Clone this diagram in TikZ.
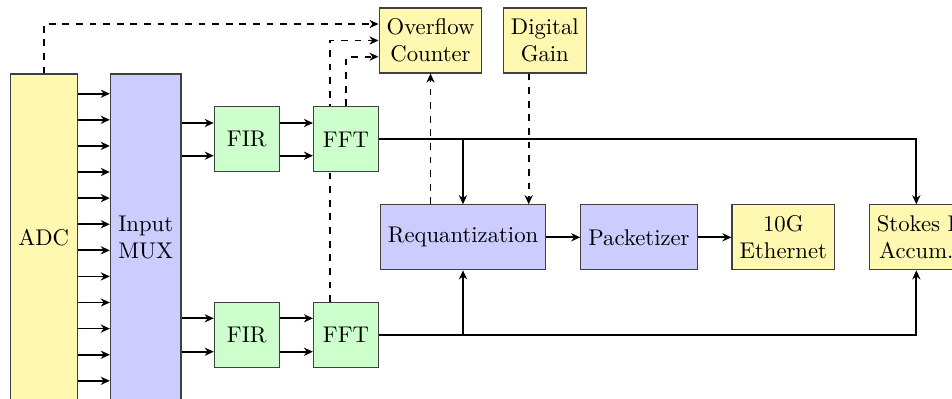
\documentclass[tikz,border=0pt]{standalone}
\usetikzlibrary{arrows.meta,calc}
\definecolor{ybox}{RGB}{255,248,176}
\definecolor{bbox}{RGB}{204,204,255}
\definecolor{gbox}{RGB}{204,255,204}
\pgfdeclarelayer{background}
\pgfsetlayers{background,main}
\tikzset{
  blk/.style={draw=black!75, line width=0.5pt, align=center, inner sep=3.33pt, minimum height=28.6pt, font=\normalsize},
  yblk/.style={blk, fill=ybox},
  bblk/.style={blk, fill=bbox},
  gblk/.style={blk, fill=gbox, minimum width=28.6pt},
  tip/.style={-{Stealth[length=4pt,width=3.6pt,inset=1.3pt]}},
  conn/.style={line width=0.75pt, tip},
  ctrl/.style={line width=0.75pt, dashed, tip},
}
\begin{document}
\begin{tikzpicture}[x=0.4405pt, y=-0.4405pt]
\clip (0,0) rectangle (952,398);
\useasboundingbox (0,0) rectangle (952,398);
% nodes
\node[yblk, minimum width=29.4pt, minimum height=144pt] (ADC) at (43.7,237.5) {ADC};
\node[bblk, minimum width=31.1pt, minimum height=144pt] (MUX) at (145.7,237.5) {Input\\MUX};
\node[gblk] (FIRa) at (246.8,139.3) {FIR};
\node[gblk] (FFTa) at (346,139.3) {FFT};
\node[gblk] (FIRb) at (246.8,335) {FIR};
\node[gblk] (FFTb) at (346,335) {FFT};
\node[yblk] (OVF) at (430.5,40.5) {Overflow\\Counter};
\node[yblk] (DG) at (544.8,40.5) {Digital\\Gain};
\node[bblk] (REQ) at (463,237.3) {Requantization};
\node[bblk] (PKT) at (639,237.3) {Packetizer};
\node[yblk] (ETH) at (783.3,237.3) {10G\\Ethernet};
\node[yblk] (STK) at (916.3,237.3) {Stokes I\\Accum.};
% ADC -> MUX
\foreach \k in {0,...,11}{
  \pgfmathsetmacro{\yy}{93.7+26.1*\k}
  \draw[conn] (ADC.east |- 0,\yy) -- (MUX.west |- 0,\yy);
}
% MUX -> FIR -> FFT
\foreach \yy in {123,155.7}{
  \draw[conn] (MUX.east |- 0,\yy) -- (FIRa.west |- 0,\yy);
  \draw[conn] (FIRa.east |- 0,\yy) -- (FFTa.west |- 0,\yy);
}
\foreach \yy in {318.3,351.7}{
  \draw[conn] (MUX.east |- 0,\yy) -- (FIRb.west |- 0,\yy);
  \draw[conn] (FIRb.east |- 0,\yy) -- (FFTb.west |- 0,\yy);
}
% FFT -> Requantization / Stokes
\draw[conn] (FFTa.east) -| (REQ.north);
\draw[conn] (FFTa.east) -| (STK.north);
\draw[conn] (FFTb.east) -| (REQ.south);
\draw[conn] (FFTb.east) -| (STK.south);
% chain
\draw[conn] (REQ) -- (PKT);
\draw[conn] (PKT) -- (ETH);
% control (dashed)
\draw[ctrl] (ADC.north) |- (OVF.west |- 0,24);
\draw[ctrl] (FFTa.north) |- (OVF.west |- 0,56.7);
\begin{pgfonlayer}{background}
\draw[ctrl] (330,0 |- FFTb.north) |- (OVF.west);
\end{pgfonlayer}
\draw[ctrl] (OVF.south |- REQ.north) -- (OVF.south);
\draw[ctrl] (528.7,0 |- DG.south) -- (528.7,0 |- REQ.north);
\end{tikzpicture}
\end{document}
